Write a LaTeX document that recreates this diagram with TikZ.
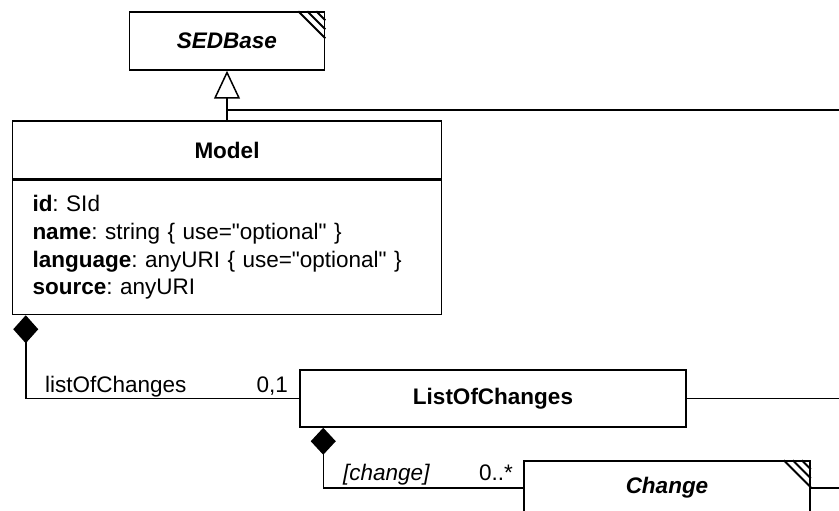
\documentclass[tikz,border=0pt]{standalone}
\usepackage{fontspec}
\setmainfont{Liberation Sans}
\usetikzlibrary{positioning,arrows.meta}
\frenchspacing

\begin{document}
\begin{tikzpicture}[x=1pt,y=-1pt,
  every node/.style={font=\fontsize{22.5}{27.7}\selectfont},
  classbox/.style={draw,line width=1.5pt,minimum height=58pt,inner sep=0pt,
    font=\fontsize{22.5}{27.7}\selectfont\bfseries},
  abstract/.style={classbox,font=\fontsize{22.5}{27.7}\selectfont\bfseries\itshape},
  link/.style={line width=1.5pt},
  lbl/.style={inner sep=0pt}]
\clip (0,0) rectangle (839,511);
% classes
\node[abstract,minimum width=195pt](sedbase) at (227,41) {SEDBase};
\node[classbox,minimum width=429pt](model) at (227,150) {Model};
\node[draw,line width=1.5pt,anchor=north,minimum width=429pt,minimum height=134pt,
  text width=389pt,inner xsep=20pt,align=left](modelattr) at (model.south)
  {\textbf{id}: SId\\
   \textbf{name}: string \{ use=\textquotedbl optional\textquotedbl{} \}\\
   \textbf{language}: anyURI \{ use=\textquotedbl optional\textquotedbl{} \}\\
   \textbf{source}: anyURI};
\node[classbox,minimum width=386pt,minimum height=57pt](loc) at (493,398.5) {ListOfChanges};
\node[abstract,minimum width=286pt,minimum height=54pt](change) at (667,488) {Change};
% abstract corners
\foreach \d in {9,18,27} {
  \draw[line width=1.8pt] ([xshift=-\d pt]sedbase.north east) -- ([yshift=-\d pt]sedbase.north east);
  \draw[line width=1.8pt] ([xshift=-\d pt]change.north east) -- ([yshift=-\d pt]change.north east);
}
% inheritance
\coordinate (inhjoin) at (227,110);
\coordinate (inhend) at (839,110);
\draw[link,-{Triangle[open,length=28pt,width=26pt]}] (model.north) -- (sedbase.south);
\draw[link] (inhend) -- (inhjoin);
% compositions
\draw[link,-{Diamond[length=28pt,width=25pt]}] (loc.west) -| ([xshift=14pt]modelattr.south west);
\draw[link,-{Diamond[length=27pt,width=25pt]}] (change.west) -| ([xshift=24pt]loc.south west);
\coordinate (locend) at (839,398.5);
\coordinate (changeend) at (839,488);
\draw[link] (loc.east) -- (locend);
\draw[link] (change.east) -- (changeend);
% roles and multiplicities
\node[lbl,anchor=base west](rolemodel) at (45,392) {listOfChanges};
\node[lbl,anchor=base east](multloc) at (288,392) {0,1};
\node[lbl,anchor=base west,font=\fontsize{22.5}{27.7}\selectfont\itshape](rolechange) at (343,480) {[change]};
\node[lbl,anchor=base east](multchange) at (513,480) {0..*};
\end{tikzpicture}
\end{document}
